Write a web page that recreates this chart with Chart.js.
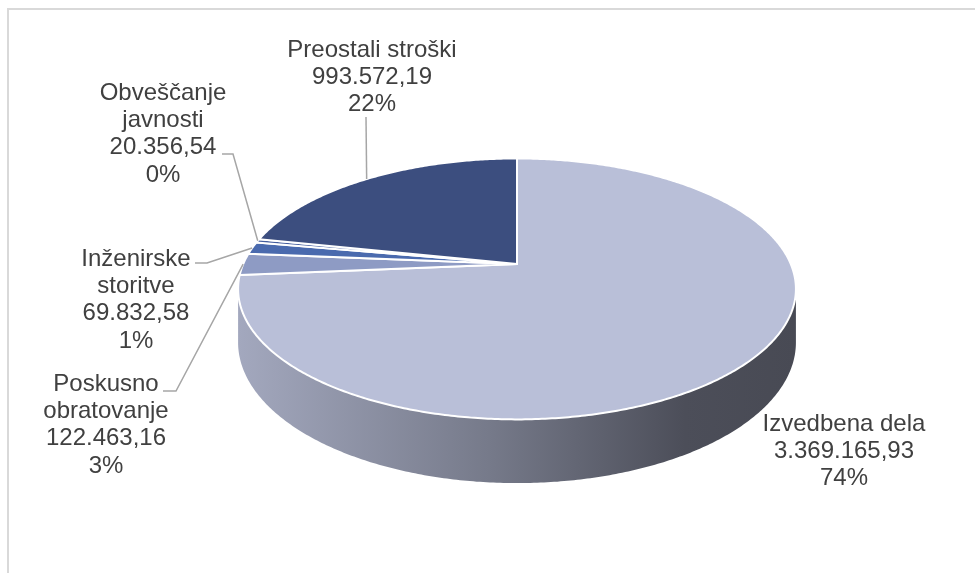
<!DOCTYPE html>
<html>
<head>
<meta charset="utf-8">
<script src="https://cdn.jsdelivr.net/npm/chart.js@4.4.1/dist/chart.umd.min.js"></script>
<style>
  html, body { margin: 0; padding: 0; background: #fff; }
  #wrap { position: relative; width: 975px; height: 573px; overflow: hidden; }
  #frame { position: absolute; left: 7px; top: 8px; width: 990px; height: 600px;
           border-top: 2px solid #d9d9d9; border-left: 2px solid #d9d9d9; }
  #costChart { position: absolute; left: 0; top: 0; }
</style>
</head>
<body>
<div id="wrap">
  <div id="frame"></div>
  <canvas id="costChart" width="975" height="573"></canvas>
</div>
<script>
const categories = [
    ['Izvedbena dela'],
    ['Poskusno', 'obratovanje'],
    ['Inženirske', 'storitve'],
    ['Obveščanje', 'javnosti'],
    ['Preostali stroški']
];
const amounts = [3369165.93, 122463.16, 69832.58, 20356.54, 993572.19];
const sliceColors = ['#b9bfd8', '#8e9bc4', '#4a6aae', '#435d9e', '#3c4e7f'];

// where each label block sits (centre x, first line y) and the elbow of its leader
const labelLayout = [
    { x: 844, y: 424, leader: null },
    { x: 106, y: 384, leader: [[163, 391], [176, 391]] },
    { x: 136, y: 259, leader: [[195, 263], [207, 263]] },
    { x: 163, y: 93, leader: [[222, 154], [233, 154]] },
    { x: 372, y: 50, leader: [[366, 117]] }
];

function formatSl(v) {
    const parts = v.toFixed(2).split('.');
    return parts[0].replace(/\B(?=(\d{3})+(?!\d))/g, '.') + ',' + parts[1];
}

// whole percentages that still add up to 100 (largest remainder)
function percentLabels(values) {
    const total = values.reduce((s, v) => s + v, 0);
    const raw = values.map(v => v / total * 100);
    const out = raw.map(Math.floor);
    const left = 100 - out.reduce((s, v) => s + v, 0);
    raw.map((r, i) => i)
        .sort((a, b) => (raw[b] - out[b]) - (raw[a] - out[a]))
        .slice(0, left)
        .forEach(i => out[i]++);
    return out;
}

function shade(hex, f) {
    const n = parseInt(hex.slice(1), 16);
    const r = Math.round(((n >> 16) & 255) * f);
    const g = Math.round(((n >> 8) & 255) * f);
    const b = Math.round((n & 255) * f);
    return `rgb(${r},${g},${b})`;
}

// perspective projection of the unit disc, tied to the arc geometry chart.js lays out
function makeProjection(arc) {
    const r = arc.outerRadius;
    const A = r * 1.041, B = r * 0.478, D = r * 0.196, E = 0.191;
    const proj = (a, drop) => {
        const w = 1 - E * Math.sin(a);
        return [arc.x + A * Math.cos(a) / w, arc.y + (B * Math.sin(a) + drop * D) / w];
    };
    return { proj, A, E };
}

const pie3d = {
    id: 'pie3d',
    beforeDatasetsDraw(chart) {
        const ctx = chart.ctx;
        const arcs = chart.getDatasetMeta(0).data;
        const { proj, A, E } = makeProjection(arcs[0]);
        const cx = arcs[0].x;
        const visLo = Math.asin(E), visHi = Math.PI - Math.asin(E);

        // front wall of the cylinder
        arcs.forEach((arc, i) => {
            const lo = Math.max(arc.startAngle, visLo);
            const hi = Math.min(arc.endAngle, visHi);
            if (hi <= lo) return;
            const n = Math.ceil((hi - lo) / 0.01);
            ctx.beginPath();
            for (let k = 0; k <= n; k++) {
                const p = proj(lo + (hi - lo) * k / n, 0);
                k === 0 ? ctx.moveTo(p[0], p[1]) : ctx.lineTo(p[0], p[1]);
            }
            for (let k = n; k >= 0; k--) {
                const p = proj(lo + (hi - lo) * k / n, 1);
                ctx.lineTo(p[0], p[1]);
            }
            ctx.closePath();
            const base = sliceColors[i];
            const grad = ctx.createLinearGradient(cx - A * 1.02, 0, cx + A * 1.02, 0);
            grad.addColorStop(0, shade(base, 0.88));
            grad.addColorStop(0.45, shade(base, 0.64));
            grad.addColorStop(0.8, shade(base, 0.41));
            grad.addColorStop(1, shade(base, 0.39));
            ctx.fillStyle = grad;
            ctx.fill();
        });

        // top face slices
        arcs.forEach((arc, i) => {
            const s = arc.startAngle, e = arc.endAngle;
            const n = Math.max(2, Math.ceil((e - s) / 0.01));
            ctx.beginPath();
            ctx.moveTo(arc.x, arc.y);
            for (let k = 0; k <= n; k++) {
                const p = proj(s + (e - s) * k / n, 0);
                ctx.lineTo(p[0], p[1]);
            }
            ctx.closePath();
            ctx.fillStyle = sliceColors[i];
            ctx.fill();
            ctx.strokeStyle = '#ffffff';
            ctx.lineWidth = 2;
            ctx.stroke();
        });
        return false;
    },
    afterDraw(chart) {
        const ctx = chart.ctx;
        const arcs = chart.getDatasetMeta(0).data;
        const { proj } = makeProjection(arcs[0]);
        const pcts = percentLabels(amounts);

        ctx.save();
        ctx.strokeStyle = '#a6a6a6';
        ctx.lineWidth = 1.5;
        arcs.forEach((arc, i) => {
            const lay = labelLayout[i];
            if (!lay.leader) return;
            const anchor = proj((arc.startAngle + arc.endAngle) / 2, 0);
            ctx.beginPath();
            lay.leader.forEach((p, k) => k === 0 ? ctx.moveTo(p[0], p[1]) : ctx.lineTo(p[0], p[1]));
            ctx.lineTo(anchor[0], anchor[1]);
            ctx.stroke();
        });

        ctx.fillStyle = '#404040';
        ctx.font = '24px "Liberation Sans", Arial, sans-serif';
        ctx.textAlign = 'center';
        ctx.textBaseline = 'middle';
        categories.forEach((name, i) => {
            const lay = labelLayout[i];
            const lines = [...name, formatSl(amounts[i]), pcts[i] + '%'];
            lines.forEach((t, k) => ctx.fillText(t, lay.x, lay.y + k * 27.3));
        });
        ctx.restore();
    }
};

new Chart(document.getElementById('costChart'), {
    type: 'pie',
    data: {
        labels: categories,
        datasets: [{
            data: amounts,
            backgroundColor: sliceColors,
            borderColor: '#ffffff',
            borderWidth: 2
        }]
    },
    options: {
        responsive: false,
        animation: false,
        layout: { padding: { left: 59, bottom: 45 } },
        plugins: {
            legend: { display: false },
            tooltip: { enabled: false }
        }
    },
    plugins: [pie3d]
});
</script>
</body>
</html>
